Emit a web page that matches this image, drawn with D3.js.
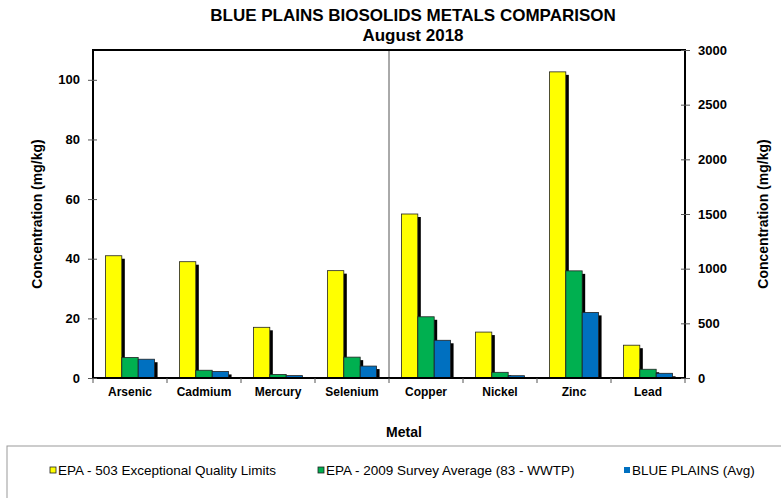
<!DOCTYPE html>
<html lang="en">
<head>
    <meta charset="UTF-8">
    <title>Blue Plains Biosolids Metals Comparison</title>
    <script src="https://d3js.org/d3.v7.min.js"></script>
    <style>
        body { margin: 0; background: #fff; }
        text { font-family: "Liberation Sans", Arial, sans-serif; fill: #000; }
    </style>
</head>
<body>
<div id="chart"></div>
<script>
    // data
    const metals = ['Arsenic', 'Cadmium', 'Mercury', 'Selenium', 'Copper', 'Nickel', 'Zinc', 'Lead'];
    const onRightAxis = [false, false, false, false, true, true, true, true];
    const epaLimits = [41, 39, 17, 36, 1500, 420, 2800, 300];
    const survey2009 = [6.9, 2.6, 1.2, 7.0, 560, 52, 980, 80];
    const bluePlains = [6.3, 2.2, 0.8, 4.0, 345, 21, 600, 43];
    const seriesNames = ['EPA - 503 Exceptional Quality Limits', 'EPA - 2009 Survey Average (83 - WWTP)', 'BLUE PLAINS (Avg)'];
    const seriesColors = ['#ffff00', '#00b050', '#0070c0'];
    const leftTicks = [0, 20, 40, 60, 80, 100];
    const rightTicks = [0, 500, 1000, 1500, 2000, 2500, 3000];

    const W = 781, H = 498;
    const plot = { left: 93, right: 685, top: 50, bottom: 378 };

    const svg = d3.select('#chart').append('svg')
        .attr('width', W)
        .attr('height', H);

    const x0 = d3.scaleBand()
        .domain(metals)
        .range([plot.left, plot.right])
        .paddingInner(0.336)
        .paddingOuter(0.168);

    const x1 = d3.scaleBand()
        .domain(d3.range(3))
        .range([0, x0.bandwidth()]);

    const yLeft = d3.scaleLinear().domain([0, 110]).range([plot.bottom, plot.top]);
    const yRight = d3.scaleLinear().domain([0, 3000]).range([plot.bottom, plot.top]);

    // titles
    svg.append('text')
        .attr('x', 413).attr('y', 21)
        .attr('text-anchor', 'middle')
        .attr('font-size', '17px').attr('font-weight', 'bold')
        .text('BLUE PLAINS BIOSOLIDS METALS COMPARISON');
    svg.append('text')
        .attr('x', 413).attr('y', 41)
        .attr('text-anchor', 'middle')
        .attr('font-size', '17px').attr('font-weight', 'bold')
        .text('August 2018');

    // divider between left-axis and right-axis metals
    const boundary = x0.step() * 4 + plot.left;
    svg.append('line')
        .attr('x1', boundary).attr('x2', boundary)
        .attr('y1', plot.top).attr('y2', plot.bottom)
        .attr('stroke', '#555').attr('stroke-width', 1);

    // bars
    const rows = metals.map((m, i) => ({
        metal: m,
        right: onRightAxis[i],
        values: [epaLimits[i], survey2009[i], bluePlains[i]]
    }));

    const groups = svg.selectAll('g.metal')
        .data(rows)
        .enter()
        .append('g')
        .attr('class', 'metal')
        .attr('transform', d => `translate(${x0(d.metal)},0)`);

    const bars = groups.selectAll('g.bar')
        .data(d => d.values.map((v, k) => ({ v: v, k: k, y: d.right ? yRight : yLeft })))
        .enter()
        .append('g')
        .attr('class', 'bar');

    // shadow
    bars.append('rect')
        .attr('x', d => x1(d.k) + 3)
        .attr('y', d => d.y(d.v) + 3)
        .attr('width', x1.bandwidth())
        .attr('height', d => Math.max(0, plot.bottom - d.y(d.v) - 2))
        .attr('fill', '#000');

    bars.append('rect')
        .attr('x', d => x1(d.k))
        .attr('y', d => d.y(d.v))
        .attr('width', x1.bandwidth())
        .attr('height', d => plot.bottom - d.y(d.v))
        .attr('fill', d => seriesColors[d.k])
        .attr('stroke', '#222')
        .attr('stroke-width', 0.8);

    // plot frame
    svg.append('rect')
        .attr('x', plot.left).attr('y', plot.top)
        .attr('width', plot.right - plot.left)
        .attr('height', plot.bottom - plot.top)
        .attr('fill', 'none')
        .attr('stroke', '#000')
        .attr('stroke-width', 2);

    // left axis
    const leftAxis = svg.append('g')
        .attr('transform', `translate(${plot.left},0)`)
        .call(d3.axisLeft(yLeft).tickValues(leftTicks).tickSize(5).tickPadding(8).tickFormat(d3.format('d')));
    leftAxis.select('.domain').remove();
    leftAxis.selectAll('.tick line').attr('x2', 4).attr('x1', -5).attr('stroke', '#555');
    leftAxis.selectAll('text')
        .attr('font-size', '13px').attr('font-weight', 'bold')
        .attr('font-family', '"Liberation Sans", Arial, sans-serif');

    // right axis
    const rightAxis = svg.append('g')
        .attr('transform', `translate(${plot.right},0)`)
        .call(d3.axisRight(yRight).tickValues(rightTicks).tickSize(5).tickPadding(8).tickFormat(d3.format('d')));
    rightAxis.select('.domain').remove();
    rightAxis.selectAll('.tick line').attr('x1', -4).attr('x2', 5).attr('stroke', '#555');
    rightAxis.selectAll('text')
        .attr('font-size', '13px').attr('font-weight', 'bold')
        .attr('font-family', '"Liberation Sans", Arial, sans-serif');

    // category ticks at band boundaries
    svg.selectAll('line.cat-tick')
        .data(d3.range(metals.length + 1))
        .enter()
        .append('line')
        .attr('class', 'cat-tick')
        .attr('x1', i => plot.left + i * x0.step())
        .attr('x2', i => plot.left + i * x0.step())
        .attr('y1', plot.bottom)
        .attr('y2', plot.bottom + 5)
        .attr('stroke', '#555');

    svg.selectAll('text.cat')
        .data(metals)
        .enter()
        .append('text')
        .attr('class', 'cat')
        .attr('x', d => x0(d) + x0.bandwidth() / 2)
        .attr('y', 396)
        .attr('text-anchor', 'middle')
        .attr('font-size', '12px').attr('font-weight', 'bold')
        .text(d => d);

    // axis titles
    const midY = (plot.top + plot.bottom) / 2;
    svg.append('text')
        .attr('transform', `translate(42,${midY}) rotate(-90)`)
        .attr('text-anchor', 'middle')
        .attr('font-size', '14px').attr('font-weight', 'bold')
        .text('Concentration (mg/kg)');
    svg.append('text')
        .attr('transform', `translate(768,${midY}) rotate(-90)`)
        .attr('text-anchor', 'middle')
        .attr('font-size', '14px').attr('font-weight', 'bold')
        .text('Concentration (mg/kg)');
    svg.append('text')
        .attr('x', 404).attr('y', 437)
        .attr('text-anchor', 'middle')
        .attr('font-size', '14px').attr('font-weight', 'bold')
        .text('Metal');

    // legend
    svg.append('rect')
        .attr('x', 7).attr('y', 446)
        .attr('width', 800).attr('height', 80)
        .attr('fill', '#fff')
        .attr('stroke', '#999')
        .attr('stroke-width', 1);

    const legendX = [50, 318, 624];
    const legend = svg.selectAll('g.legend')
        .data(seriesNames)
        .enter()
        .append('g')
        .attr('class', 'legend')
        .attr('transform', (d, i) => `translate(${legendX[i]},471)`);
    legend.append('rect')
        .attr('x', 0).attr('y', -4)
        .attr('width', 6).attr('height', 6)
        .attr('fill', (d, i) => seriesColors[i])
        .attr('stroke', (d, i) => i === 2 ? 'none' : '#222')
        .attr('stroke-width', 0.8);
    legend.append('text')
        .attr('x', 8).attr('y', 4)
        .attr('font-size', '13.5px')
        .text(d => d);
</script>
</body>
</html>
